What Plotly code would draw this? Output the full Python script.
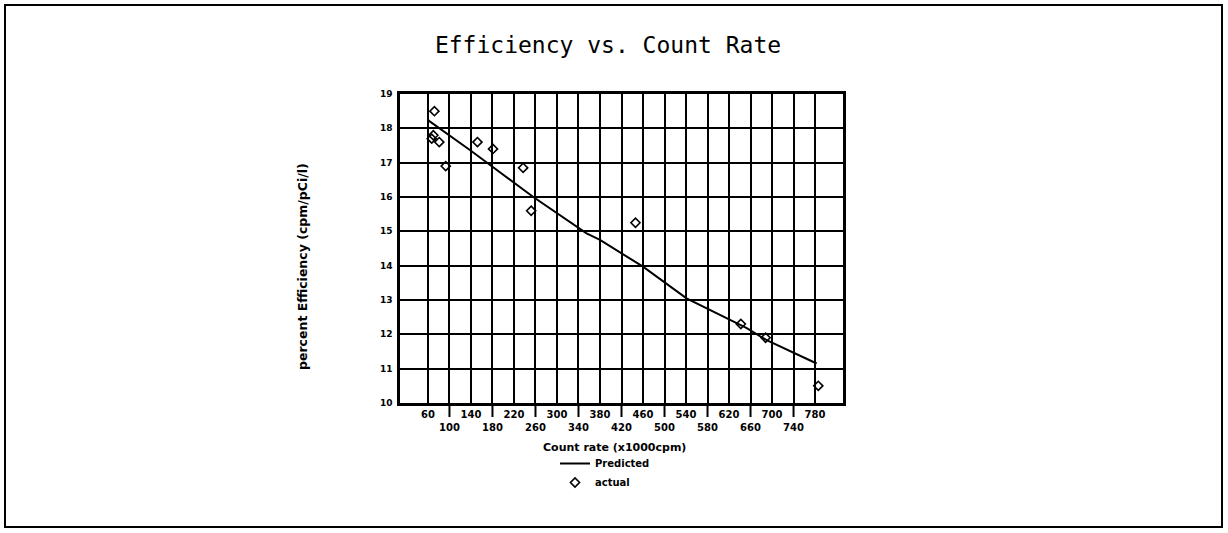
import plotly.graph_objects as go

# ---- data ----
tick_labels = [60, 100, 140, 180, 220, 260, 300, 340, 380, 420,
               460, 500, 540, 580, 620, 660, 700, 740, 780]
y_ticks = [10, 11, 12, 13, 14, 15, 16, 17, 18, 19]

actual_x = [72, 70, 67, 81, 93, 152, 181, 237, 252, 446, 642, 688, 786]
actual_y = [18.5, 17.8, 17.7, 17.6, 16.9, 17.6, 17.4, 16.85, 15.6, 15.25, 12.3, 11.9, 10.5]

pred_x = [60, 138, 256, 355, 380, 460, 541, 653, 690, 783]
pred_y = [18.24, 17.37, 16.0, 14.94, 14.75, 13.97, 13.05, 12.18, 11.83, 11.15]

# ---- layout geometry (pixels; body margin removed below) ----
W, H = 1228, 533
L, R, T, B = 400, 843, 94, 403          # plot area
pw, ph = R - L, B - T

def px_x(x):
    return (x - L) / pw

def px_y(y):
    return (B - y) / ph

FONT = "DejaVu Sans"

fig = go.Figure()
fig.add_trace(go.Scatter(
    x=pred_x, y=pred_y, mode="lines", name="Predicted",
    line=dict(color="black", width=2),
))
fig.add_trace(go.Scatter(
    x=actual_x, y=actual_y, mode="markers", name="actual",
    marker=dict(symbol="diamond-open", size=7, color="black",
                line=dict(color="black", width=1.6)),
))

ticktext = [("<br>" if i % 2 else "") + str(v) for i, v in enumerate(tick_labels)]

fig.update_xaxes(
    range=[8, 832], tickmode="array", tickvals=tick_labels, ticktext=ticktext,
    tickangle=0,
    showgrid=True, gridcolor="black", gridwidth=2,
    showline=True, linecolor="black", linewidth=2.5, mirror=True,
    ticks="", zeroline=False,
    tickfont=dict(family=FONT, size=10, color="black", weight="bold"),
)
fig.update_yaxes(
    range=[10, 19], tickmode="array", tickvals=y_ticks,
    showgrid=True, gridcolor="black", gridwidth=2,
    showline=True, linecolor="black", linewidth=2.5, mirror=True,
    ticks="", zeroline=False, ticklabelstandoff=3,
    tickfont=dict(family=FONT, size=9, color="black", weight="bold"),
)

shapes = []
# long tick marks under the second-row labels
for i, v in enumerate(tick_labels):
    if i % 2:
        shapes.append(dict(type="line", xref="x", yref="paper",
                           x0=v, x1=v, y0=0, y1=-14 / ph,
                           line=dict(color="black", width=2)))
# outer frame
shapes.append(dict(type="rect", xref="paper", yref="paper",
                   x0=px_x(5), x1=px_x(1222), y0=px_y(527), y1=px_y(5),
                   line=dict(color="black", width=2)))

annotations = [
    dict(text="Count rate (x1000cpm)", xref="paper", yref="paper",
         x=px_x(614), y=px_y(447), showarrow=False,
         xanchor="center", yanchor="middle",
         font=dict(family=FONT, size=11, color="black", weight="bold")),
    dict(text="percent Efficiency (cpm/pCi/l)", xref="paper", yref="paper",
         x=px_x(302), y=px_y(267), showarrow=False, textangle=-90,
         xanchor="center", yanchor="middle",
         font=dict(family=FONT, size=12.5, color="black", weight="bold")),
]

fig.update_layout(
    width=W, height=H, autosize=False,
    margin=dict(l=L, r=W - R, t=T, b=H - B),
    paper_bgcolor="white", plot_bgcolor="white",
    title=dict(text="Efficiency vs. Count Rate", xref="container", yref="container",
               x=608 / W, y=1 - 45 / H,
               xanchor="center", yanchor="middle",
               font=dict(family="DejaVu Sans Mono", size=23, color="black")),
    showlegend=True,
    legend=dict(x=px_x(555), y=px_y(449), xanchor="left", yanchor="top",
                orientation="v", bgcolor="rgba(0,0,0,0)",
                font=dict(family=FONT, size=10, color="black", weight="bold")),
    shapes=shapes,
    annotations=annotations,
)

fig.write_html(
    "out.html",
    config={"displayModeBar": False},
    post_script="document.body.style.margin='0';document.body.style.overflow='hidden';",
)
